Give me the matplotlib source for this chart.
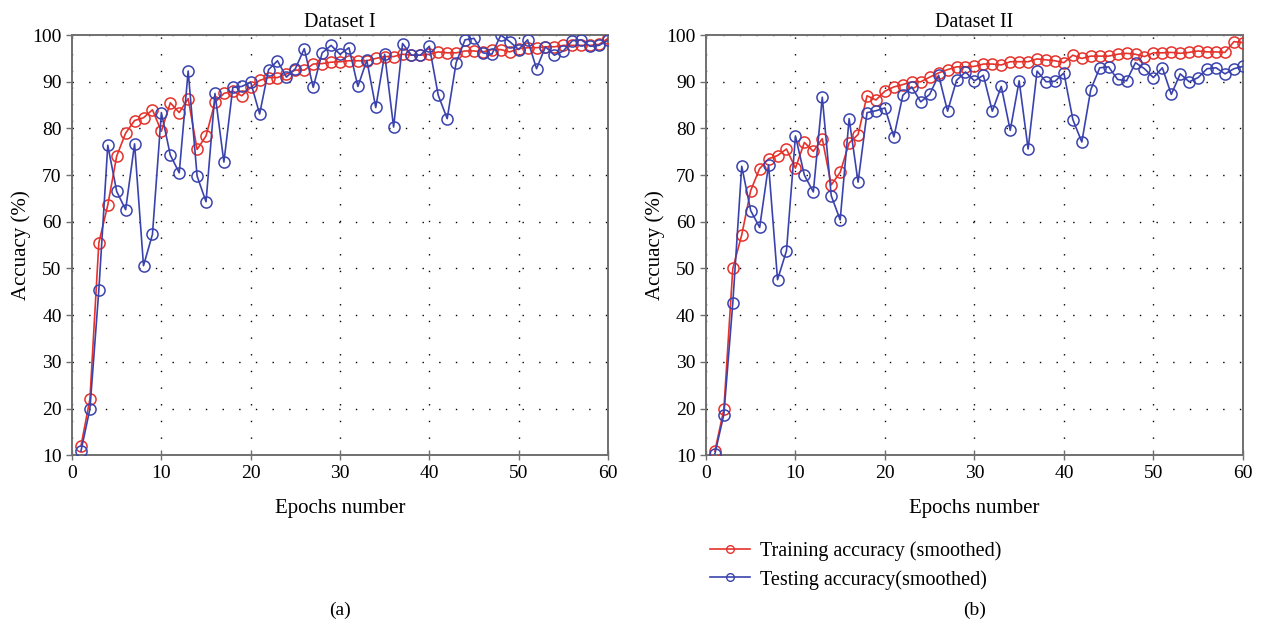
import numpy as np
import matplotlib as mpl
import matplotlib.pyplot as plt
from matplotlib.lines import Line2D

mpl.rcParams['font.family'] = ['Liberation Serif', 'DejaVu Serif']

#
# Data
#
epochs = np.arange(1, 61)

# Dataset I
train_1 = [12, 22, 55.5, 63.6, 74.1, 79, 81.7, 82.3, 84, 79.4,
           85.5, 83.4, 86.4, 75.5, 78.4, 85.6, 87.5, 88, 87, 88.8,
           90.3, 90.9, 90.9, 91.7, 92.5, 92.5, 93.8, 93.9, 94.2, 94.3,
           94.5, 94.5, 94.5, 95, 95.4, 95.4, 95.9, 95.7, 95.7, 95.9,
           96.4, 96.2, 96.2, 96.6, 96.6, 96.4, 96.9, 96.9, 96.4, 97.1,
           97.3, 97.3, 97.5, 97.5, 97.8, 97.8, 97.8, 97.8, 98, 99.3]
test_1 = [10.9, 19.9, 45.4, 76.4, 66.5, 62.6, 76.7, 50.6, 57.3, 83.4,
          74.3, 70.5, 92.3, 69.8, 64.3, 87.5, 72.8, 88.8, 89, 89.9,
          83.1, 92.6, 94.5, 91, 92.8, 97.1, 88.8, 96.2, 97.8, 95.9,
          97.3, 89, 94.6, 84.5, 95.9, 80.3, 98.2, 95.7, 95.7, 97.6,
          87.1, 82.1, 94.1, 99, 99.3, 96.2, 95.9, 100, 98.6, 96.9,
          99, 92.8, 97.5, 95.7, 96.6, 98.8, 99, 97.6, 97.8, 98.9]

# Dataset II
train_2 = [10.9, 19.8, 50, 57.2, 66.7, 71.4, 73.5, 74.2, 75.6, 71.5,
           77, 75.1, 77.8, 67.9, 70.6, 76.9, 78.7, 87, 86.1, 88,
           88.9, 89.4, 90, 90, 91, 91.9, 92.6, 93.2, 93.2, 93.3,
           93.8, 93.8, 93.6, 94.3, 94.3, 94.3, 94.9, 94.7, 94.5, 94.1,
           95.7, 95, 95.5, 95.5, 95.5, 95.9, 96.1, 95.9, 95.4, 96.2,
           96.2, 96.3, 96.1, 96.3, 96.6, 96.4, 96.4, 96.3, 98.6, 98.4]
test_2 = [10.3, 18.7, 42.6, 71.9, 62.4, 58.8, 72.2, 47.6, 53.8, 78.4,
          70, 66.4, 86.7, 65.6, 60.4, 82.1, 68.5, 83.4, 83.8, 84.4,
          78.2, 87.1, 88.9, 85.7, 87.3, 91.4, 83.7, 90.3, 92.1, 90.2,
          91.4, 83.7, 89, 79.6, 90.2, 75.6, 92.3, 90, 90.1, 91.9,
          81.9, 77.1, 88.3, 93, 93.2, 90.5, 90.2, 94.1, 92.8, 90.9,
          93, 87.3, 91.7, 90, 90.9, 92.8, 93, 91.7, 92.8, 93.3]

titles = ['Dataset I', 'Dataset II']
panel_tags = ['(a)', '(b)']
legend_labels = ['Training accuracy (smoothed)', 'Testing accuracy(smoothed)']

red = '#e5322b'
blue = '#3a43ad'

fig = plt.figure(figsize=(12.64, 6.27), dpi=100)
ax_a = fig.add_axes([0.057, 0.274, 0.424, 0.670])
ax_b = fig.add_axes([0.5585, 0.274, 0.4248, 0.670])

for ax, tr, te, title, tag in zip([ax_a, ax_b], [train_1, train_2], [test_1, test_2],
                                  titles, panel_tags):
    ax.plot(epochs, tr, '-o', color=red, lw=1.2, ms=8, mfc='none', mew=1.1, zorder=3)
    ax.plot(epochs, te, '-o', color=blue, lw=1.2, ms=8, mfc='none', mew=1.1, zorder=4)
    ax.set_xlim(0, 60)
    ax.set_ylim(10, 100)
    ax.set_xticks(np.arange(0, 61, 10))
    ax.set_yticks(np.arange(10, 101, 10))
    ax.grid(True, color='black', linestyle=(0, (1, 11)), lw=1.0)
    for s in ax.spines.values():
        s.set_color('#707070')
        s.set_linewidth(1.4)
    ax.tick_params(axis='y', direction='out', length=4, width=1, color='#707070', labelsize=14)
    ax.tick_params(axis='x', direction='inout', length=7, width=1, color='#707070', labelsize=14)
    ax.set_title(title, fontsize=14.5, pad=6)
    ax.set_xlabel('Epochs number', fontsize=15, labelpad=12)
    ax.set_ylabel('Accuacy (%)', fontsize=15, labelpad=1)
    ax.text(0.5, -0.369, tag, transform=ax.transAxes, ha='center', va='center', fontsize=14)

handles = [Line2D([], [], color=red, marker='o', ms=5.5, mfc='none', mew=1, lw=1.2),
           Line2D([], [], color=blue, marker='o', ms=5.5, mfc='none', mew=1, lw=1.2)]
fig.legend(handles, legend_labels, loc='upper left', bbox_to_anchor=(0.555, 0.15),
           frameon=False, fontsize=14.5, handlelength=2.0, handletextpad=0.5,
           labelspacing=0.45, borderaxespad=0)

fig.savefig('out.png', dpi=100)
